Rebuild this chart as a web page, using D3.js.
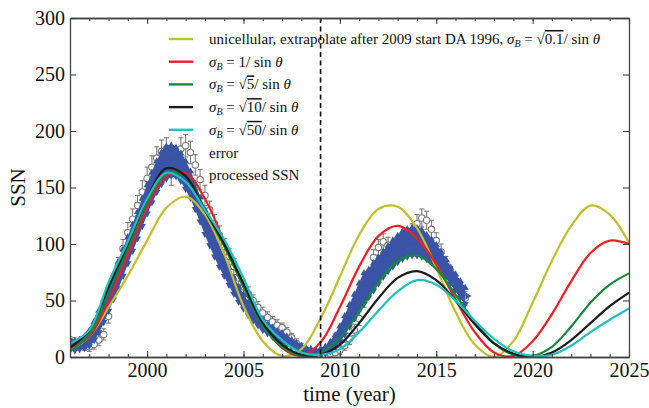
<!DOCTYPE html>
<html><head><meta charset="utf-8">
<script src="https://cdn.jsdelivr.net/npm/d3@7/dist/d3.min.js"></script>
<style>
body{margin:0;background:#fff}
text{font-family:"Liberation Serif","DejaVu Serif",serif}
</style>
</head><body>
<svg id="c" width="649" height="408"></svg>
<script>
// ---------- DATA ----------
const xTicks = [2000, 2005, 2010, 2015, 2020, 2025];
const yTicks = [0, 50, 100, 150, 200, 250, 300];
const forecastStart = 2009;

const curveYears = [1996,1997,1998,1999,2000,2001,2002,2003,2004,2005,2006,2007,2008,2009,2010,
  2011,2012,2013,2014,2015,2016,2017,2018,2019,2020,2021,2022,2023,2024,2025];
const unicellular = [6,18,44,72,103,132,142,126,91,45,14,1,7,34,71,108,131,133,114,79,40,11,0,14,48,85,116,134,126,101];
const sigma1      = [8,18,50,90,132,160,163,140,102,62,31,8,1,13,44,80,107,116,105,82,51,22,4,1,14,38,67,92,103,100];
const sigma5      = [5,20,58,96,137,162,160,130,98,62,28,9,1,4,17,40,66,85,90,78,55,31,12,2,1,9,27,48,64,74];
const sigma10     = [8,24,62,100,140,167,160,130,100,65,30,11,2,2,11,30,52,70,76,68,50,29,12,3,0,4,15,30,45,57];
const sigma50     = [12,24,66,102,140,163,155,130,104,70,33,15,4,2,7,22,41,58,68,64,50,32,16,5,1,2,10,22,33,43];

const dataYears = [1996,1996.25,1996.5,1996.75,1997,1997.25,1997.5,1997.75,1998,1998.25,1998.5,1998.75,
  1999,1999.25,1999.5,1999.75,2000,2000.25,2000.5,2000.75,2001,2001.25,2001.5,2001.75,
  2002,2002.25,2002.5,2002.75,2003,2003.25,2003.5,2003.75,2004,2004.25,2004.5,2004.75,
  2005,2005.25,2005.5,2005.75,2006,2006.25,2006.5,2006.75,2007,2007.25,2007.5,2007.75,
  2008,2008.25,2008.5,2008.75,2009,2009.25,2009.5,2009.75,2010,2010.25,2010.5,2010.75,
  2011,2011.25,2011.5,2011.75,2012,2012.25,2012.5,2012.75,2013,2013.25,2013.5,2013.75,
  2014,2014.25,2014.5,2014.75,2015,2015.25,2015.5,2015.75,2016,2016.25,2016.5];
// observed SSN with error ("error")
const ssnObs = [14,13,12,10,9,11,15,20,36,60,80,96,110,122,134,146,158,168,176,182,184,162,174,184,
  187,181,170,157,143,130,118,108,98,89,80,70,62,56,50,44,39,35,31,28,26,22,17,12,
  8,5,3,2,2,2,3,4,6,10,16,24,34,50,70,88,97,102,99,94,92,94,100,110,
  118,123,121,113,103,93,83,74,66,59,52];
const ssnErr = [4,4,4,4,4,4,5,5,6,7,8,8,9,9,9,10,10,10,10,10,10,10,10,10,
  10,10,9,9,9,8,8,8,7,7,7,6,6,6,5,5,5,5,5,5,4,4,4,4,
  4,3,3,3,3,3,3,3,4,4,5,5,6,6,7,7,7,7,7,7,7,7,7,8,
  8,8,8,8,7,7,6,6,6,6,6];
// processed SSN band (lower / upper)
const procLo = [5,5,6,7,9,14,21,30,40,50,60,71,82,93,104,115,126,136,145,152,157,160,159,155,
  148,140,130,119,108,98,88,79,71,63,55,48,42,36,31,27,23,20,17,14,12,10,8,6,
  4,3,2,1,1,2,4,8,13,19,26,33,40,46,52,58,64,70,75,79,83,86,88,89,
  89,88,86,83,79,75,70,64,58,52,46];
const procHi = [16,15,16,19,24,32,42,52,63,74,85,96,107,118,129,141,153,164,174,182,187,188,186,181,
  174,165,154,142,131,120,109,99,89,80,71,63,56,49,43,38,34,30,27,24,22,19,16,13,
  11,9,8,7,8,10,14,20,28,37,47,56,66,75,78,84,89,94,99,104,108,112,114,115,
  115,113,109,105,100,94,87,80,74,68,62];

const seriesNames = [
  {key:"uni", color:"#bfbf30"},
  {key:"s1", color:"#ec2024"},
  {key:"s5", color:"#128a3c"},
  {key:"s10", color:"#1c1c1c"},
  {key:"s50", color:"#20bfc0"}
];
const seriesValues = {uni:unicellular, s1:sigma1, s5:sigma5, s10:sigma10, s50:sigma50};

// ---------- CHART ----------
const svg = d3.select("#c");
const W = 649, H = 408;
const m = {left:70, right:20, top:18, bottom:51};
const x = d3.scaleLinear().domain([1996, 2025]).range([m.left, W - m.right]);
const y = d3.scaleLinear().domain([0, 300]).range([H - m.bottom, m.top]);

svg.append("defs").append("clipPath").attr("id","clip")
  .append("rect").attr("x", m.left).attr("y", m.top)
  .attr("width", x.range()[1]-m.left).attr("height", y(0)-m.top);

const plot = svg.append("g").attr("clip-path","url(#clip)");

// observed SSN with error bars
const obs = dataYears.map((t,i)=>({t, v:ssnObs[i], e:ssnErr[i]}));
const eg = plot.append("g").attr("stroke","#7a7a7a").attr("stroke-width",1.1);
obs.forEach(d=>{
  const cx = x(d.t);
  eg.append("line").attr("x1",cx).attr("x2",cx).attr("y1",y(d.v-d.e)).attr("y2",y(d.v+d.e));
  eg.append("line").attr("x1",cx-2.5).attr("x2",cx+2.5).attr("y1",y(d.v-d.e)).attr("y2",y(d.v-d.e));
  eg.append("line").attr("x1",cx-2.5).attr("x2",cx+2.5).attr("y1",y(d.v+d.e)).attr("y2",y(d.v+d.e));
});
plot.append("g").selectAll("circle").data(obs).join("circle")
  .attr("cx",d=>x(d.t)).attr("cy",d=>y(d.v)).attr("r",3.2)
  .attr("fill","#fff").attr("stroke","#7a7a7a").attr("stroke-width",1.1);

// processed SSN band
const blue = "#3a54a6";
const proc = dataYears.map((t,i)=>({t, lo:procLo[i], hi:procHi[i]}));
plot.append("path").datum(proc)
  .attr("d", d3.area().x(d=>x(d.t)).y0(d=>y(d.lo)).y1(d=>y(d.hi)))
  .attr("fill", blue);
const tri = d3.symbol(d3.symbolTriangle, 22);
const pg = plot.append("g").attr("fill", blue);
proc.forEach(d=>{
  pg.append("path").attr("d",tri).attr("transform",`translate(${x(d.t)},${y(d.hi)+1})`);
  pg.append("path").attr("d",tri).attr("transform",`translate(${x(d.t)},${y(d.lo)-1}) rotate(180)`);
  pg.append("path").attr("d",tri).attr("transform",`translate(${x(d.t)+2.4},${(y(d.hi)+y(d.lo))/2}) rotate(90)`);
  pg.append("path").attr("d",tri).attr("transform",`translate(${x(d.t)-2.4},${(y(d.hi)+y(d.lo))/2}) rotate(-90)`);
});

// model curves
const line = d3.line().x((d,i)=>x(curveYears[i])).y(d=>y(d)).curve(d3.curveCatmullRom.alpha(0.5));
seriesNames.forEach(s=>{
  plot.append("path").datum(seriesValues[s.key]).attr("d",line)
    .attr("fill","none").attr("stroke",s.color).attr("stroke-width",2.2);
});

// forecast start line
svg.append("line").attr("x1",x(forecastStart)).attr("x2",x(forecastStart))
  .attr("y1",y(300)).attr("y2",y(0)).attr("stroke","#111").attr("stroke-width",1.6)
  .attr("stroke-dasharray","5,3.5");

// axes
const axisColor = "#444";
const minorYears = d3.range(1996, 2026);
function styleAxis(g){
  g.attr("font-family",'"Liberation Serif",serif').attr("font-size",20);
  g.select(".domain").attr("stroke",axisColor).attr("stroke-width",1.3);
  g.selectAll(".tick line").attr("stroke",axisColor).attr("stroke-width",1.1);
  g.selectAll("text").attr("fill","#111");
}
svg.append("g").attr("transform",`translate(0,${y(0)})`)
  .call(d3.axisBottom(x).tickValues(minorYears).tickSize(-3).tickSizeOuter(0).tickFormat(""))
  .call(styleAxis);
svg.append("g").attr("transform",`translate(0,${y(0)})`)
  .call(d3.axisBottom(x).tickValues(xTicks).tickSize(-6).tickSizeOuter(0).tickPadding(6).tickFormat(d3.format("d")))
  .call(styleAxis);
svg.append("g").attr("transform",`translate(0,${y(300)})`)
  .call(d3.axisTop(x).tickValues(minorYears).tickSize(-3).tickSizeOuter(0).tickFormat(""))
  .call(styleAxis);
svg.append("g").attr("transform",`translate(0,${y(300)})`)
  .call(d3.axisTop(x).tickValues(xTicks).tickSize(-6).tickSizeOuter(0).tickFormat(""))
  .call(styleAxis);
svg.append("g").attr("transform",`translate(${m.left},0)`)
  .call(d3.axisLeft(y).tickValues(yTicks).tickSize(-6).tickSizeOuter(0).tickPadding(5))
  .call(styleAxis);
svg.append("g").attr("transform",`translate(${x(2025)},0)`)
  .call(d3.axisRight(y).tickValues(yTicks).tickSize(-6).tickSizeOuter(0).tickFormat(""))
  .call(styleAxis);

// axis titles
svg.append("text").attr("x",(x(1996)+x(2025))/2).attr("y",401).attr("text-anchor","middle")
  .style("font-size","21px").attr("fill","#111").text("time (year)");
svg.append("text").attr("transform",`translate(25,${(y(0)+y(300))/2}) rotate(-90)`)
  .attr("text-anchor","middle").style("font-size","21px").attr("fill","#111").text("SSN");

// legend
const legendRows = [
  {color:"#bfbf30", pre:"unicellular, extrapolate after 2009 start DA 1996, ", rad:"0.1"},
  {color:"#ec2024", pre:"", rad:null},
  {color:"#128a3c", pre:"", rad:"5"},
  {color:"#1c1c1c", pre:"", rad:"10"},
  {color:"#20bfc0", pre:"", rad:"50"},
  {color:null, label:"error"},
  {color:null, label:"processed SSN"}
];
const lg = svg.append("g");
legendRows.forEach((r,i)=>{
  const cy = 39 + i*22.7;
  if(r.color){
    lg.append("line").attr("x1",169).attr("x2",193).attr("y1",cy).attr("y2",cy)
      .attr("stroke",r.color).attr("stroke-width",2.4);
  }
  const t = lg.append("text").attr("x",209).attr("y",cy+5).style("font-size","15px").attr("fill","#111");
  if(r.label){ t.text(r.label); return; }
  if(r.pre) t.append("tspan").text(r.pre);
  t.append("tspan").style("font-style","italic").text("σ");
  t.append("tspan").style("font-style","italic").style("font-size","10px").attr("dy",3).text("B");
  t.append("tspan").attr("dy",-3).text(" = " + (r.rad ? " " : ""));
  if(r.rad){
    t.append("tspan").text("√");
    t.append("tspan").style("text-decoration","overline").text(r.rad);
    t.append("tspan").text("/ sin ");
  } else {
    t.append("tspan").text("1/ sin ");
  }
  t.append("tspan").style("font-style","italic").text("θ");
});
</script>
</body></html>
